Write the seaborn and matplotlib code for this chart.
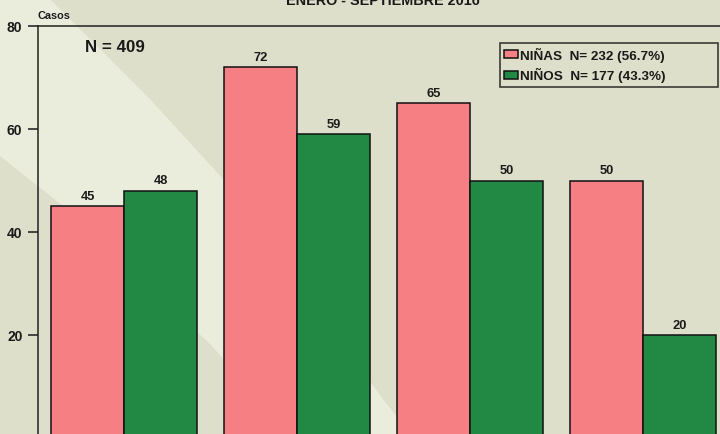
import matplotlib
matplotlib.use("Agg")
import matplotlib.pyplot as plt
from matplotlib.patches import Polygon
import seaborn as sns
import pandas as pd

# ---- data ----
groups = ["G1", "G2", "G3", "G4"]
ninas = [45, 72, 65, 50]
ninos = [48, 59, 50, 20]
series_labels = ["NIÑAS  N= 232 (56.7%)", "NIÑOS  N= 177 (43.3%)"]
yticks = [0, 20, 40, 60, 80]
title = "ENERO - SEPTIEMBRE 2016"
ylabel = "Casos"
total_text = "N = 409"

df = pd.DataFrame({
    "grupo": groups * 2,
    "serie": [series_labels[0]] * len(groups) + [series_labels[1]] * len(groups),
    "casos": ninas + ninos,
})

plt.rcParams["font.family"] = ["Liberation Sans", "DejaVu Sans"]
plt.rcParams["font.weight"] = "bold"

W, H = 720, 435
fig = plt.figure(figsize=(7.2, 4.35), dpi=100)
fig.patch.set_facecolor("#dedfca")

def px(x, y):
    return (x / W, 1 - y / H)

band = [(0, 0), (50, 0), (150, 100), (223, 180), (383, 400), (410, 435),
        (292, 435), (210, 345), (63, 207), (0, 157)]
fig.add_artist(Polygon([px(*p) for p in band], closed=True,
                       transform=fig.transFigure, facecolor="#eaecdc",
                       edgecolor="none", zorder=-10))

ax_left, ax_right = 38, 729.5
ax_top, ax_bottom = 27, 439
ax = fig.add_axes([ax_left / W, 1 - ax_bottom / H,
                   (ax_right - ax_left) / W, (ax_bottom - ax_top) / H])
ax.set_facecolor("none")

sns.barplot(data=df, x="grupo", y="casos", hue="serie",
            palette=["#f67f84", "#218944"], width=0.844,
            edgecolor="#111111", linewidth=1.1, saturation=1, ax=ax)

for cont in ax.containers:
    ax.bar_label(cont, padding=3.2, fontsize=9.3, fontweight="bold",
                 color="#1a1a1a")

ax.set_ylim(0, 80)
ax.set_xlim(-0.5, len(groups) - 0.5)
ax.set_yticks(yticks)
ax.set_xticks([])
ax.set_xlabel("")
ax.set_ylabel("")
ax.tick_params(axis="y", length=7.2, width=1.1, pad=4.0, labelsize=10,
               colors="#1a1a1a")
for lab in ax.get_yticklabels():
    lab.set_fontweight("bold")
for s in ["left", "top", "right", "bottom"]:
    ax.spines[s].set_color("#222222")
    ax.spines[s].set_linewidth(1.1)

fig.text(85 / W, 1 - 47 / H, total_text, fontsize=12.2, fontweight="bold",
         va="center", ha="left", color="#1a1a1a")
fig.text(38 / W, 1 - 19 / H, ylabel, fontsize=7.8, fontweight="bold",
         va="baseline", ha="left", color="#1a1a1a")
fig.text(383 / W, 1 - 5 / H, title, fontsize=10.4, fontweight="bold",
         va="baseline", ha="center", color="#1a1a1a")

x0, y0 = px(500, 84)
x1, y1 = px(718, 44)
leg = ax.legend(loc="upper left", bbox_to_anchor=(x0, y0, x1 - x0, y1 - y0),
                bbox_transform=fig.transFigure, borderaxespad=0, mode="expand",
                fancybox=False, frameon=True, fontsize=9.7,
                handlelength=1.0, handleheight=0.55, handletextpad=0.18,
                labelspacing=0.4, borderpad=0.3, title=None)
leg.get_frame().set_edgecolor("#111111")
leg.get_frame().set_linewidth(1.2)
leg.get_frame().set_facecolor("#dedfca")
for t in leg.get_texts():
    t.set_fontweight("bold")
    t.set_color("#1a1a1a")

fig.savefig("out.png", dpi=100, facecolor=fig.get_facecolor())
